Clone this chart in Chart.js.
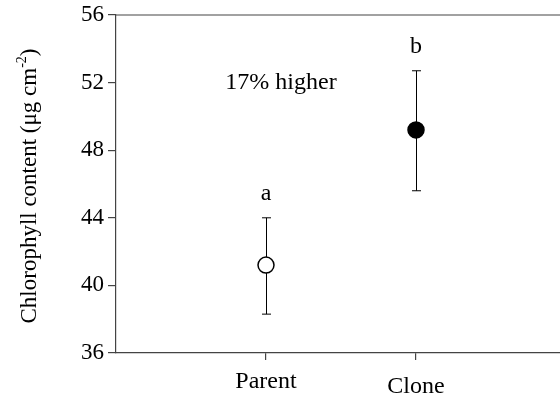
<!DOCTYPE html>
<html>
<head>
<meta charset="utf-8">
<script src="https://cdn.jsdelivr.net/npm/chart.js@4"></script>
<style>
  body { margin: 0; background: #fff; }
  #wrap { width: 560px; height: 400px; }
</style>
</head>
<body>
<div id="wrap"><canvas id="grafica"></canvas></div>
<script>
// datos
var categorias = ['Parent', 'Clone'];
var medias = [41.2, 49.2];
var error_bajo = [38.3, 45.6];
var error_alto = [44.0, 52.7];
var letras = ['a', 'b'];
var ticks_y = [36, 40, 44, 48, 52, 56];
var texto_nota = '17% higher';
var posicion_nota = { x: 1.1, y: 52 };

var fuente = '"Liberation Serif", "Times New Roman", serif';
var color_eje = '#444';

var puntos = medias.map(function (m, i) { return { x: i + 1, y: m }; });

var pluginExtras = {
	id: 'extras',
	beforeDatasetsDraw: function (chart) {
		var ctx = chart.ctx;
		var sx = chart.scales.x, sy = chart.scales.y;
		ctx.save();
		ctx.strokeStyle = '#000';
		ctx.lineWidth = 1;
		for (var i = 0; i < medias.length; i++) {
			var px = Math.round(sx.getPixelForValue(i + 1)) + 0.5;
			var top = sy.getPixelForValue(error_alto[i]);
			var bot = sy.getPixelForValue(error_bajo[i]);
			ctx.beginPath();
			ctx.moveTo(px, top); ctx.lineTo(px, bot);
			ctx.moveTo(px - 4.5, top); ctx.lineTo(px + 4.5, top);
			ctx.moveTo(px - 4.5, bot); ctx.lineTo(px + 4.5, bot);
			ctx.stroke();
		}
		ctx.restore();
	},
	afterDraw: function (chart) {
		var ctx = chart.ctx;
		var sx = chart.scales.x, sy = chart.scales.y;
		var area = chart.chartArea;
		ctx.save();
		// borde superior
		ctx.strokeStyle = color_eje;
		ctx.lineWidth = 1.2;
		ctx.beginPath();
		ctx.moveTo(area.left, area.top);
		ctx.lineTo(area.right, area.top);
		ctx.stroke();

		ctx.fillStyle = '#000';
		ctx.textAlign = 'center';
		ctx.textBaseline = 'middle';
		ctx.font = '24px ' + fuente;
		for (var i = 0; i < letras.length; i++) {
			var px = sx.getPixelForValue(i + 1);
			ctx.fillText(letras[i], px, sy.getPixelForValue(error_alto[i]) - 24);
		}
		ctx.fillText(texto_nota, sx.getPixelForValue(posicion_nota.x), sy.getPixelForValue(posicion_nota.y));

		// etiquetas del eje x
		ctx.font = '24px ' + fuente;
		for (var j = 0; j < categorias.length; j++) {
			ctx.fillText(categorias[j], sx.getPixelForValue(j + 1), area.bottom + 29 + j * 5);
		}

		// titulo del eje y con superindice
		var t1 = 'Chlorophyll content (\u03bcg cm';
		var t2 = '-2';
		var t3 = ')';
		ctx.translate(30, (area.top + area.bottom) / 2 + 2);
		ctx.rotate(-Math.PI / 2);
		ctx.textAlign = 'left';
		ctx.font = '23px ' + fuente;
		var w1 = ctx.measureText(t1).width;
		var w3 = ctx.measureText(t3).width;
		ctx.font = '14px ' + fuente;
		var w2 = ctx.measureText(t2).width;
		var x0 = -(w1 + w2 + w3) / 2;
		ctx.font = '23px ' + fuente;
		ctx.fillText(t1, x0, 0);
		ctx.font = '14px ' + fuente;
		ctx.fillText(t2, x0 + w1, -8);
		ctx.font = '23px ' + fuente;
		ctx.fillText(t3, x0 + w1 + w2, 0);
		ctx.restore();
	}
};

var grafica = new Chart(document.getElementById('grafica').getContext('2d'), {
	type: 'scatter',
	data: {
		datasets: [{
			data: puntos,
			pointRadius: 8,
			pointHoverRadius: 8,
			pointBorderWidth: 1.5,
			pointBorderColor: '#000',
			pointBackgroundColor: ['#fff', '#000'],
			showLine: false
		}]
	},
	options: {
		responsive: true,
		maintainAspectRatio: false,
		animation: false,
		layout: { autoPadding: false, padding: { top: 15, right: 0, left: 0, bottom: 0 } },
		plugins: {
			legend: { display: false },
			tooltip: { enabled: false }
		},
		scales: {
			x: {
				type: 'linear',
				min: 0,
				max: 2.96,
				afterBuildTicks: function (scale) {
					scale.ticks = categorias.map(function (c, i) { return { value: i + 1 }; });
				},
				afterFit: function (scale) {
					scale.height = 47;
					scale.paddingLeft = 0;
					scale.paddingRight = 0;
				},
				ticks: {
					callback: function () { return ''; }
				},
				grid: {
					drawOnChartArea: false,
					drawTicks: true,
					tickLength: 7,
					color: color_eje,
					lineWidth: 1.2
				},
				border: { display: true, color: color_eje, width: 1.2 }
			},
			y: {
				min: 36,
				max: 56,
				afterBuildTicks: function (scale) {
					scale.ticks = ticks_y.map(function (v) { return { value: v }; });
				},
				afterFit: function (scale) {
					scale.width = 116;
					scale.paddingTop = 0;
					scale.paddingBottom = 0;
				},
				ticks: {
					color: '#000',
					padding: 4,
					font: { family: fuente, size: 23 }
				},
				grid: {
					drawOnChartArea: false,
					drawTicks: true,
					tickLength: 8,
					color: color_eje,
					lineWidth: 1.2
				},
				border: { display: true, color: color_eje, width: 1.2 }
			}
		}
	},
	plugins: [pluginExtras]
});
</script>
</body>
</html>
